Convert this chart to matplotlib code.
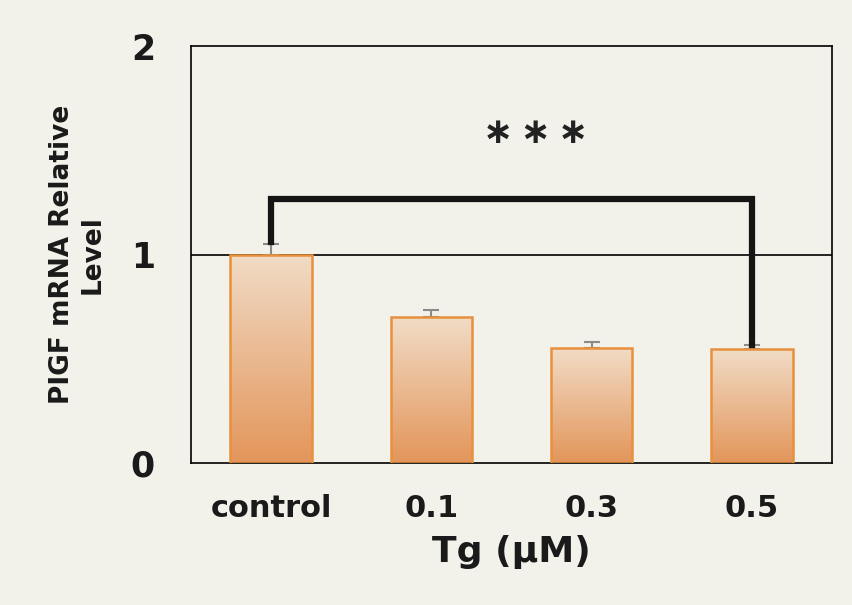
import numpy as np
import matplotlib.pyplot as plt
from matplotlib.colors import LinearSegmentedColormap

categories = ["control", "0.1", "0.3", "0.5"]
values = [1.0, 0.70, 0.55, 0.545]
errors = [0.05, 0.035, 0.03, 0.02]

bg = "#f2f2ea"
fig = plt.figure(figsize=(8.53, 6.05), dpi=100, facecolor=bg)
ax = fig.add_axes([191 / 853, 1 - 463 / 605, 641 / 853, 417 / 605])
ax.set_facecolor(bg)

x = np.arange(len(categories))
bars = ax.bar(x, values, width=0.51, color="none", edgecolor="#e8903c",
              linewidth=1.8, zorder=3)
ax.errorbar(x, values, yerr=[np.zeros(len(errors)), errors], fmt="none",
            ecolor="#8a8a8a", elinewidth=1.5, capsize=6, capthick=1.5, zorder=2)

cmap = LinearSegmentedColormap.from_list("grad", ["#e3955a", "#f1dcc6"])
grad = np.linspace(0, 1, 256).reshape(-1, 1)
for b in bars:
    x0, y0 = b.get_x(), b.get_y()
    im = ax.imshow(grad, cmap=cmap, origin="lower", aspect="auto",
                   extent=[x0, x0 + b.get_width(), y0, y0 + b.get_height()],
                   zorder=2.5)
    im.set_clip_path(b)

ax.set_xlim(-0.5, len(categories) - 0.5)
ax.set_ylim(0, 2)
ax.set_yticks([0, 1, 2])
ax.axhline(1, color="black", linewidth=1.2, zorder=1)
ax.set_xticks(x)
ax.set_xticklabels(categories)
ax.tick_params(axis="x", length=0, labelsize=22, pad=22)
ax.tick_params(axis="y", length=0, labelsize=25, pad=26)
for lab in ax.get_xticklabels() + ax.get_yticklabels():
    lab.set_fontweight("bold")
    lab.set_color("#1a1a1a")
for s in ax.spines.values():
    s.set_linewidth(1.2)

# significance bracket
by = 1.265
ax.plot([x[0], x[0], x[3], x[3]], [values[0] + errors[0] + 0.01, by, by, values[3] + errors[3]],
        color="#151515", linewidth=4.5, solid_joinstyle="miter", zorder=4)
ax.text(1.65, 1.585, "\u2217\u2009\u2217\u2009\u2217", ha="center", va="center",
        fontsize=26, fontweight="bold", color="#222222")

ax.set_xlabel("Tg (μM)", fontsize=26, fontweight="bold", labelpad=9,
              color="#1a1a1a")
ax.set_ylabel("PIGF mRNA Relative\nLevel", fontsize=19, fontweight="bold",
              labelpad=18, linespacing=1.25, color="#1a1a1a")

fig.savefig("out.png", dpi=100, facecolor=bg)
